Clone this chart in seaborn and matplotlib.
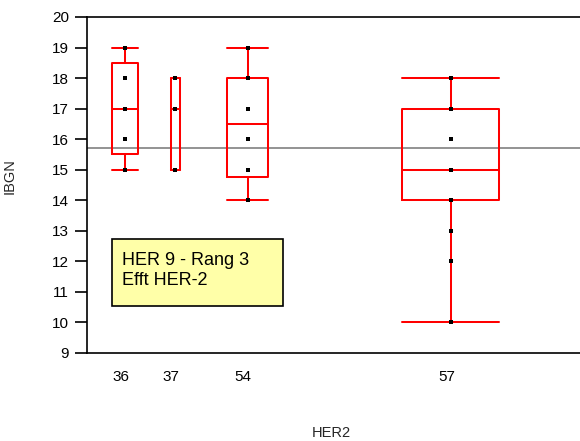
import matplotlib
matplotlib.use("Agg")
import matplotlib.pyplot as plt
from matplotlib.patches import Rectangle
from matplotlib.transforms import offset_copy
import numpy as np
import pandas as pd
import seaborn as sns

# ---- data ----
groups = ["36", "37", "54", "57"]
counts = [19, 6, 30, 71]          # group weights (x-axis widths proportional)
whislo = [15, 15, 14, 10]
q1 = [15.5, 15, 14.75, 14]
med = [17, 17, 16.5, 15]
q3 = [18.5, 18, 18, 17]
whishi = [19, 18, 19, 18]
pts_36 = [15, 16, 17, 18, 19]
pts_37 = [15, 17, 18]
pts_54 = [14, 15, 16, 17, 18, 19]
pts_57 = [10, 12, 13, 14, 15, 16, 17, 18]
grand_mean = 15.72
y_ticks = list(range(9, 21))
note_lines = ["HER 9 - Rang 3", "Efft HER-2"]

sns.set_theme(style="white")
plt.rcParams["font.family"] = ["Liberation Sans", "DejaVu Sans"]

W, H, DPI = 580, 441, 100
fig = plt.figure(figsize=(W / DPI, H / DPI), dpi=DPI)
ax_left, ax_right, ax_top, ax_bot = 87, 593.5, 17, 353
ax = fig.add_axes([ax_left / W, (H - ax_bot) / H,
                   (ax_right - ax_left) / W, (ax_bot - ax_top) / H])

edges = np.concatenate([[0], np.cumsum(counts)])
centers = (edges[:-1] + edges[1:]) / 2
region_w = np.diff(edges)
box_w = region_w * 0.34

# mean line
ax.axhline(grand_mean, color="#8a8a8a", lw=1.3, zorder=1)

stats = []
for i, g in enumerate(groups):
    stats.append(dict(label=g, whislo=whislo[i], q1=q1[i], med=med[i],
                      q3=q3[i], whishi=whishi[i], fliers=[]))
red = "#ff0000"
lw_box = 1.45
ax.bxp(stats, positions=centers, widths=box_w, capwidths=box_w,
       showfliers=False, manage_ticks=False,
       boxprops=dict(color=red, lw=lw_box),
       whiskerprops=dict(color=red, lw=lw_box),
       capprops=dict(color=red, lw=lw_box),
       medianprops=dict(color=red, lw=lw_box), zorder=2)

all_pts = [pts_36, pts_37, pts_54, pts_57]
df = pd.DataFrame({
    "x": np.concatenate([[centers[i]] * len(p) for i, p in enumerate(all_pts)]),
    "y": np.concatenate(all_pts),
})
sns.scatterplot(data=df, x="x", y="y", marker="s", s=11, color="black",
                linewidth=0, ax=ax, zorder=3)

ax.set_xlim(edges[0], edges[-1])
ax.set_ylim(9, 20)
ax.set_yticks(y_ticks)
ax.set_yticklabels([str(v) for v in y_ticks], fontsize=11)
ax.set_xticks(edges[1:-1])
ax.set_xticklabels([])
ax.tick_params(axis="x", which="major", direction="out", length=7.2,
               width=1.2, color="black")
ax.tick_params(axis="y", direction="out", length=9, width=1.2, pad=4,
               color="black", labelcolor="black", left=True)
ax.set_xlabel("")
ax.set_ylabel("")
for s in ["left", "bottom", "top"]:
    ax.spines[s].set_visible(True)
    ax.spines[s].set_color("black")
    ax.spines[s].set_linewidth(1.2)
ax.spines["right"].set_visible(False)

# category labels (slightly left of centre as in the reference)
lab_tr = offset_copy(ax.get_xaxis_transform(), fig=fig, x=-4.5, y=-24,
                     units="dots")
for c, g in zip(centers, groups):
    ax.text(c, 0, g, transform=lab_tr, ha="center", va="center",
            fontsize=11, color="black", clip_on=False)

fig.text(331 / W, 1 - 433 / H, "HER2", ha="center", va="center", fontsize=10.5)
fig.text(9.5 / W, 1 - 176 / H, "IBGN", ha="center", va="center",
         rotation=90, fontsize=10.5)

# note box
bx0, bx1, by0, by1 = 111.7, 282.7, 239, 306
rect = Rectangle(((bx0 - ax_left) / (ax_right - ax_left),
                  (ax_bot - by1) / (ax_bot - ax_top)),
                 (bx1 - bx0) / (ax_right - ax_left),
                 (by1 - by0) / (ax_bot - ax_top),
                 transform=ax.transAxes, facecolor="#ffffa8",
                 edgecolor="black", lw=1.2, zorder=4)
ax.add_patch(rect)
for line, base in zip(note_lines, [265, 285]):
    ax.text((121.7 - ax_left) / (ax_right - ax_left),
            (ax_bot - base) / (ax_bot - ax_top), line,
            transform=ax.transAxes, ha="left", va="baseline",
            fontsize=13, color="black", zorder=5)

fig.savefig("out.png", dpi=DPI)
